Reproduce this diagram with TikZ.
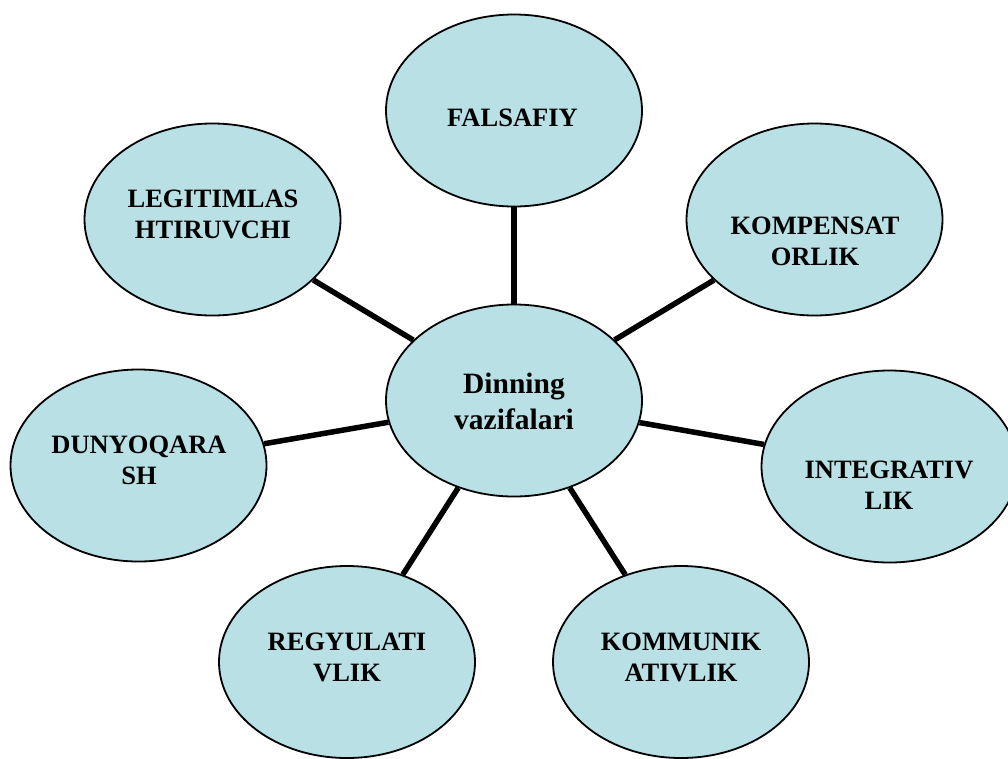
\documentclass[tikz,border=0pt]{standalone}
\usepackage{fontspec}
\setmainfont{Liberation Serif}
\usetikzlibrary{shapes.geometric}
\definecolor{bubble}{RGB}{185,224,228}
\tikzset{
  bub/.style={ellipse, draw=black, line width=1.8pt, fill=bubble,
    minimum width=256pt, minimum height=192pt, inner sep=0pt},
  lbl/.style={align=center, inner sep=0pt,
    font=\fontsize{26.5}{31}\selectfont\bfseries},
  clbl/.style={align=center, inner sep=0pt,
    font=\fontsize{29.5}{36}\selectfont\bfseries},
  link/.style={line width=5.5pt}
}
\begin{document}
\begin{tikzpicture}[x=1pt,y=-1pt]
\useasboundingbox (0,0) rectangle (1008,758);
\begin{scope}
\clip (0,0) rectangle (1008,758);
\node[bub] (c) at (514,400.5) {};
\node[bub] (fal) at (514,110.5) {};
\node[bub] (leg) at (212.5,219.5) {};
\node[bub] (kom) at (814.5,219.5) {};
\node[bub] (dun) at (138.5,465.5) {};
\node[bub] (int) at (889.5,466.5) {};
\node[bub] (reg) at (347,662) {};
\node[bub] (kmm) at (681,662) {};
\draw[link] (c) -- (fal);
\draw[link] (c) -- (leg);
\draw[link] (c) -- (kom);
\draw[link] (c) -- (dun);
\draw[link] (c) -- (int);
\draw[link] (c) -- (reg);
\draw[link] (c) -- (kmm);
\end{scope}
\node[clbl] (tc) at (514,401.5) {Dinning\\vazifalari};
\node[lbl] (tfal) at (512.5,118) {FALSAFIY};
\node[lbl] (tleg) at (213,214.5) {LEGITIMLAS\\HTIRUVCHI};
\node[lbl] (tkom) at (815,241.5) {KOMPENSAT\\ORLIK};
\node[lbl] (tdun) at (139,460.5) {DUNYOQARA\\SH};
\node[lbl] (tint) at (889,485) {INTEGRATIV\\LIK};
\node[lbl] (treg) at (347,657) {REGYULATI\\VLIK};
\node[lbl] (tkmm) at (681,657) {KOMMUNIK\\ATIVLIK};
\end{tikzpicture}
\end{document}
